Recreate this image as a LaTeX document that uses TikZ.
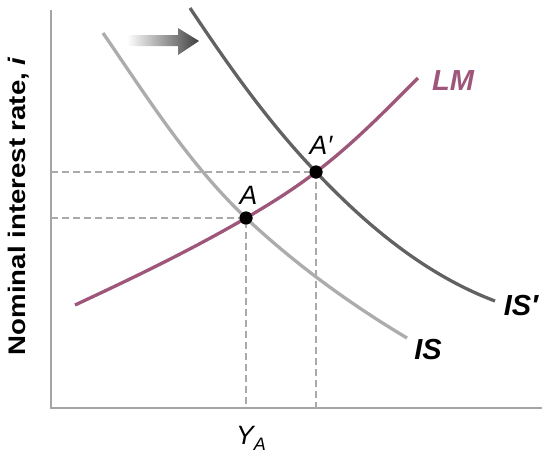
\documentclass[tikz,border=0pt]{standalone}
\usepackage{fontspec}
\setmainfont{Liberation Sans}
\usetikzlibrary{calc}
\definecolor{lmcol}{RGB}{158,86,122}
\definecolor{iscol}{RGB}{172,172,172}
\definecolor{isbcol}{RGB}{98,98,98}
\definecolor{axcol}{RGB}{165,165,165}
\definecolor{dashcol}{RGB}{170,170,170}
\tikzset{
  curve/.style={line width=3.3pt, line cap=butt},
  guide/.style={dashcol, line width=1.2pt, dash pattern=on 7pt off 4pt},
  dot/.style={circle, fill=black, inner sep=0pt, minimum size=13pt},
  lbl/.style={font=\fontsize{29}{29}\selectfont\bfseries\itshape, inner sep=0pt},
  ptlbl/.style={font=\fontsize{26.5}{26.5}\selectfont\itshape, inner sep=0pt},
}
\begin{document}
\begin{tikzpicture}[x=1pt,y=-1pt]
\useasboundingbox (0,0) rectangle (542,453);
% axes
\draw[axcol, line width=1.6pt] (51,10) -- (51,408) -- (542,408);
% guides
\coordinate (Ax) at (246,408);
\coordinate (Ay) at (51,218);
\coordinate (Bx) at (316,408);
\coordinate (By) at (51,172);
\node[dot] (A) at (246,218) {};
\node[dot] (B) at (316,172) {};
\draw[guide] (Ay) -- (A.center) -- (Ax);
\draw[guide] (By) -- (B.center) -- (Bx);
% IS
\draw[curve, iscol] (103,33) .. controls (147,97) and (189,164) .. (A.center)
  .. controls (295,264) and (350,304) .. (407,338);
% IS'
\draw[curve, isbcol] (190,8) .. controls (228,65) and (268,122) .. (B.center)
  .. controls (367,226) and (426,275) .. (495,301);
% LM
\draw[curve, lmcol] (75,305) .. controls (133,278) and (191,250) .. (A.center)
  .. controls (270,204) and (294,189) .. (B.center)
  .. controls (353,144) and (385,111) .. (418,78);
\node[dot] at (A) {};
\node[dot] at (B) {};
% arrow
\shade[left color=white, right color=black!75, shading angle=90]
  (127,35) -- (178,35) -- (178,28) -- (199,41) -- (178,55) -- (178,46) -- (127,46) -- cycle;
% labels
\node[lbl, text=lmcol] (lml) at (453,80.5) {LM};
\node[lbl] (isbl) at (521,306) {IS′};
\node[lbl] (isl) at (428,350) {IS};
\node[ptlbl] (al) at (248.5,195.5) {A};
\node[ptlbl] (bl) at (321,145.5) {A′};
\node[ptlbl, anchor=base west] (yl) at (236,444) {Y\raisebox{-6pt}{\fontsize{18}{18}\selectfont A}};
\node[rotate=90, font=\fontsize{24}{24}\selectfont\bfseries, inner sep=0pt] (ylab) at (19,206) {\scalebox{1.15}[1]{Nominal interest rate, \textit{i}}};
\end{tikzpicture}
\end{document}
